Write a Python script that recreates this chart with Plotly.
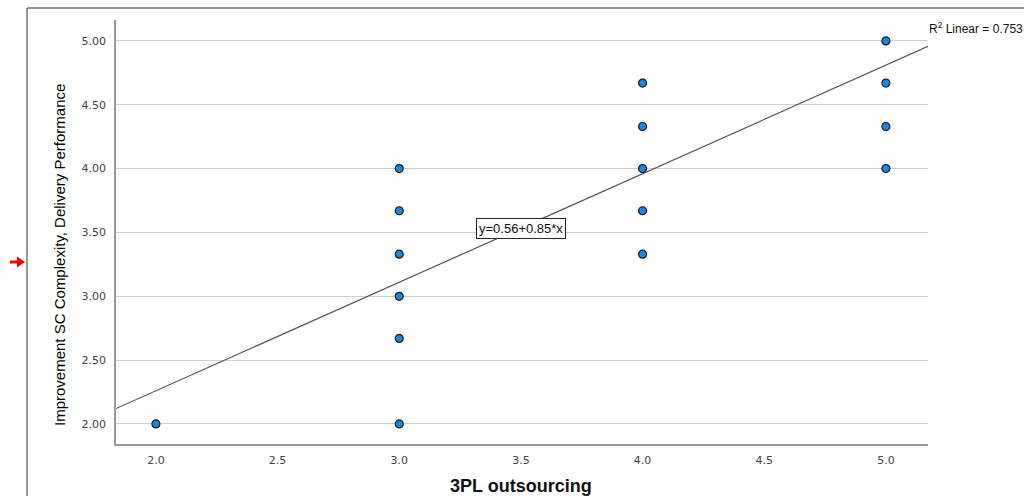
import plotly.graph_objects as go

# Data
x_vals = [2, 3, 3, 3, 3, 3, 3, 4, 4, 4, 4, 4, 5, 5, 5, 5]
y_vals = [2.00, 4.00, 3.67, 3.33, 3.00, 2.67, 2.00, 4.67, 4.33, 4.00, 3.67, 3.33, 5.00, 4.67, 4.33, 4.00]
intercept = 0.56
slope = 0.85
r2 = 0.753
x_ticks = [2.0, 2.5, 3.0, 3.5, 4.0, 4.5, 5.0]
y_ticks = [2.00, 2.50, 3.00, 3.50, 4.00, 4.50, 5.00]
x_range = [1.836, 5.173]
y_range = [1.843, 5.164]
x_title = "3PL outsourcing"
y_title = "Improvement SC Complexity, Delivery Performance"

L, R, T, B = 116, 928, 20, 444
def px(xp):
    return (xp - L) / (R - L)
def py(yp):
    return (B - yp) / (B - T)

fig = go.Figure()

fit_x = [x_range[0], x_range[1]]
fit_y = [intercept + slope * v for v in fit_x]
fig.add_trace(go.Scatter(x=fit_x, y=fit_y, mode="lines",
                         line=dict(color="#555555", width=1.2), hoverinfo="skip",
                         showlegend=False, cliponaxis=False))

fig.add_trace(go.Scatter(x=x_vals, y=y_vals, mode="markers",
                         marker=dict(size=8, color="#1a88e0",
                                     line=dict(color="#1a1a1a", width=1.2)),
                         showlegend=False))

fig.update_layout(
    width=1024, height=496,
    margin=dict(l=L, r=1024 - R, t=T, b=496 - B, autoexpand=False),
    paper_bgcolor="white", plot_bgcolor="white",
    font=dict(family="DejaVu Sans", size=11, color="#444444"),
    xaxis=dict(range=x_range, tickvals=x_ticks, ticktext=[f"{v:.1f}" for v in x_ticks],
               showgrid=False, zeroline=False, showline=True, linecolor="#999999",
               linewidth=1.5, ticks="", ticklabelstandoff=5, automargin=False),
    yaxis=dict(range=y_range, tickvals=y_ticks, ticktext=[f"{v:.2f}" for v in y_ticks],
               showgrid=True, gridcolor="#cfcfcf", gridwidth=1, zeroline=False,
               showline=True, linecolor="#999999", linewidth=1.5, ticks="",
               ticklabelstandoff=6, automargin=False),
)

# Axis titles
fig.add_annotation(xref="paper", yref="paper", x=px(521), y=py(486), showarrow=False,
                   xanchor="center", yanchor="middle", text=f"<b>{x_title}</b>",
                   font=dict(family="Liberation Sans", size=18, color="#111111"))
fig.add_annotation(xref="paper", yref="paper", x=px(59), y=py(255), showarrow=False,
                   xanchor="center", yanchor="middle", textangle=-90, text=y_title,
                   font=dict(family="Liberation Sans", size=15, color="#000000"))

# Frame lines
fig.add_shape(type="line", xref="paper", yref="paper", x0=px(27), x1=px(27), y0=py(520), y1=py(8),
              line=dict(color="#333333", width=1))
fig.add_shape(type="line", xref="paper", yref="paper", x0=px(27), x1=px(1100), y0=py(8), y1=py(8),
              line=dict(color="#333333", width=1))

# R² annotation
fig.add_annotation(xref="paper", yref="paper", x=px(927), y=py(28), xanchor="left", yanchor="middle",
                   xshift=0,
                   text=f"R<sup>2</sup> Linear = {r2:.3f}", showarrow=False,
                   font=dict(family="Liberation Sans", size=12, color="#111111"))

# Equation box
fig.add_annotation(x=3.5, y=3.53, text=f"y={intercept:.2f}+{slope:.2f}*x", showarrow=False,
                   bgcolor="white", bordercolor="#222222", borderwidth=1, borderpad=2,
                   font=dict(family="Liberation Sans", size=13, color="#111111"))

# Red arrow at left (shaft + head)
fig.add_shape(type="line", xref="paper", yref="paper", x0=px(10), x1=px(19), y0=py(262), y1=py(262),
              line=dict(color="#ff0000", width=3))
fig.add_shape(type="path", xref="paper", yref="paper",
              path=f"M {px(17)},{py(256.5)} L {px(25)},{py(262)} L {px(17)},{py(267.5)} Z",
              fillcolor="#ff0000", line=dict(color="#ff0000", width=0))

fig.write_html("out.html")
